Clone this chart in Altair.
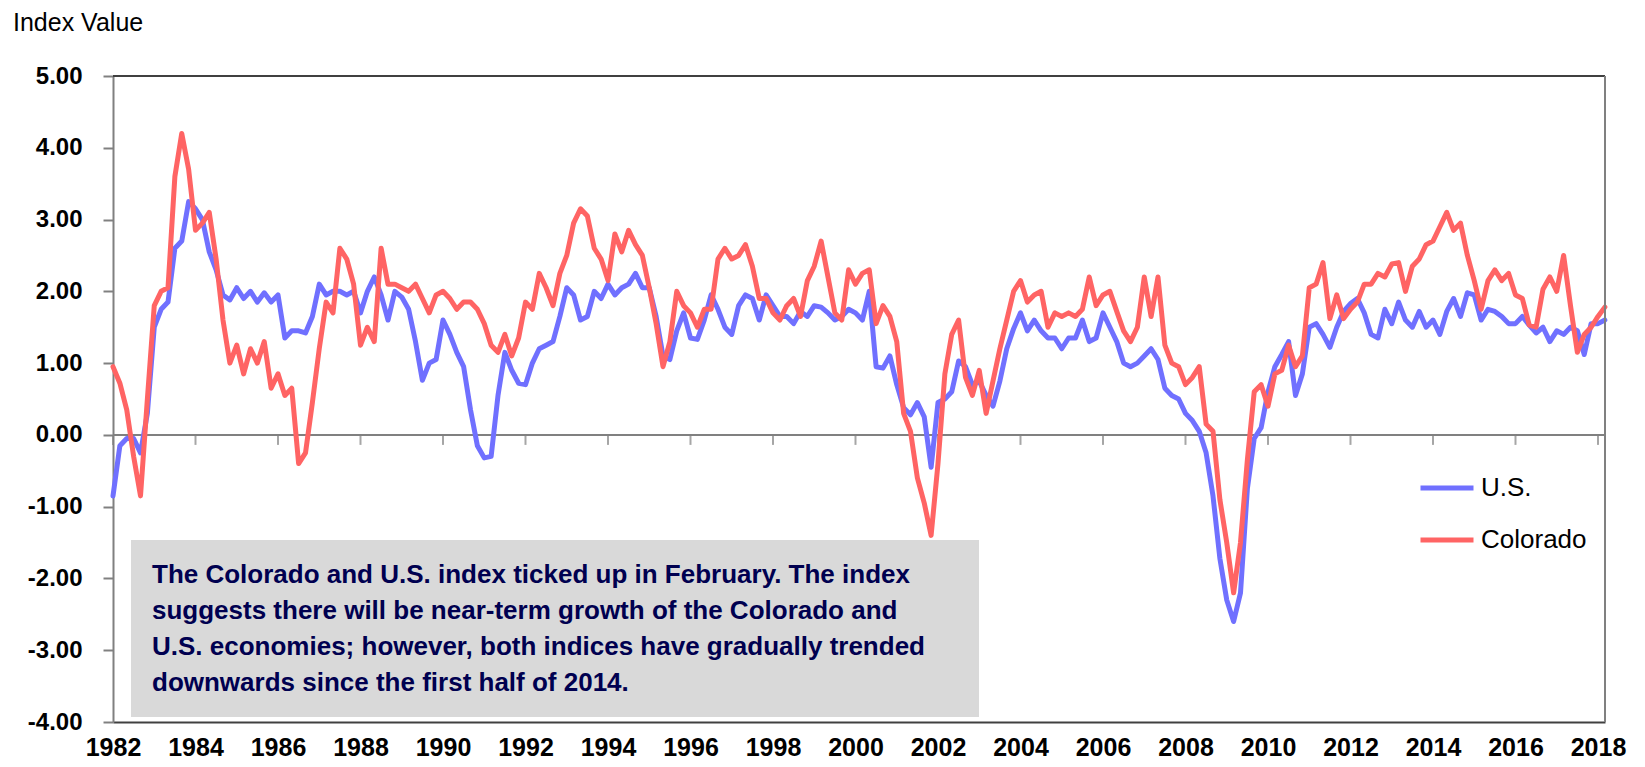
import altair as alt
import pandas as pd

# ---------------- data (two-month sampling, Jan 1982 .. Feb 2018) ----------------
START_YEAR = 1982
STEP = 1 / 6

us_values = [
    -0.85, -0.15, -0.05, -0.05, -0.25, 0.3,    # 1982
    1.5, 1.75, 1.85, 2.6, 2.7, 3.25,           # 1983
    3.15, 3.0, 2.55, 2.3, 1.95, 1.88,          # 1984
    2.05, 1.9, 2.0, 1.85, 1.98, 1.85,          # 1985
    1.95, 1.35, 1.45, 1.45, 1.42, 1.65,        # 1986
    2.1, 1.95, 2.0, 2.0, 1.95, 2.0,            # 1987
    1.7, 2.0, 2.2, 1.95, 1.6, 2.0,             # 1988
    1.92, 1.75, 1.3, 0.76, 1.0, 1.05,          # 1989
    1.6, 1.4, 1.15, 0.95, 0.35, -0.15,         # 1990
    -0.32, -0.3, 0.55, 1.15, 0.9, 0.72,        # 1991
    0.7, 1.0, 1.2, 1.25, 1.3, 1.65,            # 1992
    2.05, 1.95, 1.6, 1.65, 2.0, 1.9,           # 1993
    2.1, 1.95, 2.05, 2.1, 2.25, 2.05,          # 1994
    2.05, 1.65, 1.1, 1.05, 1.45, 1.7,          # 1995
    1.35, 1.33, 1.6, 1.95, 1.75, 1.5,          # 1996
    1.4, 1.8, 1.95, 1.9, 1.6, 1.95,            # 1997
    1.8, 1.65, 1.65, 1.55, 1.72, 1.65,         # 1998
    1.8, 1.78, 1.7, 1.6, 1.65, 1.75,           # 1999
    1.7, 1.6, 2.0, 0.95, 0.93, 1.1,            # 2000
    0.7, 0.38, 0.28, 0.45, 0.25, -0.45,        # 2001
    0.45, 0.5, 0.6, 1.03, 0.95, 0.7,           # 2002
    0.75, 0.55, 0.4, 0.75, 1.2, 1.48,          # 2003
    1.7, 1.45, 1.6, 1.45, 1.35, 1.35,          # 2004
    1.2, 1.35, 1.35, 1.6, 1.3, 1.35,           # 2005
    1.7, 1.5, 1.3, 1.0, 0.95, 1.0,             # 2006
    1.1, 1.2, 1.05, 0.65, 0.55, 0.5,           # 2007
    0.3, 0.2, 0.05, -0.25, -0.85, -1.72,       # 2008
    -2.3, -2.6, -2.2, -0.75, -0.05, 0.1,       # 2009
    0.6, 0.95, 1.12, 1.3, 0.55, 0.85,          # 2010
    1.5, 1.55, 1.4, 1.22, 1.5, 1.72,           # 2011
    1.83, 1.9, 1.7, 1.4, 1.35, 1.75,           # 2012
    1.55, 1.85, 1.6, 1.5, 1.72, 1.5,           # 2013
    1.6, 1.4, 1.72, 1.9, 1.65, 1.98,           # 2014
    1.95, 1.6, 1.75, 1.72, 1.65, 1.55,         # 2015
    1.55, 1.65, 1.53, 1.42, 1.5, 1.3,          # 2016
    1.45, 1.4, 1.5, 1.45, 1.12, 1.55,          # 2017
    1.55, 1.6,                                 # 2018
]

co_values = [
    0.95, 0.72, 0.35, -0.3, -0.85, 0.5,        # 1982
    1.8, 2.0, 2.05, 3.6, 4.2, 3.7,             # 1983
    2.85, 2.95, 3.1, 2.45, 1.6, 1.0,           # 1984
    1.25, 0.85, 1.2, 1.0, 1.3, 0.65,           # 1985
    0.85, 0.55, 0.65, -0.4, -0.25, 0.45,       # 1986
    1.2, 1.85, 1.7, 2.6, 2.45, 2.1,            # 1987
    1.25, 1.5, 1.3, 2.6, 2.1, 2.1,             # 1988
    2.05, 2.0, 2.1, 1.9, 1.7, 1.95,            # 1989
    2.0, 1.9, 1.75, 1.85, 1.85, 1.75,          # 1990
    1.55, 1.25, 1.15, 1.4, 1.1, 1.35,          # 1991
    1.85, 1.75, 2.25, 2.05, 1.8, 2.25,         # 1992
    2.5, 2.95, 3.15, 3.05, 2.6, 2.45,          # 1993
    2.15, 2.8, 2.55, 2.85, 2.65, 2.5,          # 1994
    2.05, 1.55, 0.95, 1.3, 2.0, 1.8,           # 1995
    1.7, 1.5, 1.75, 1.75, 2.45, 2.6,           # 1996
    2.45, 2.5, 2.65, 2.35, 1.9, 1.9,           # 1997
    1.7, 1.6, 1.8, 1.9, 1.65, 2.15,            # 1998
    2.35, 2.7, 2.2, 1.7, 1.6, 2.3,             # 1999
    2.1, 2.25, 2.3, 1.55, 1.8, 1.65,           # 2000
    1.3, 0.3, 0.05, -0.6, -0.95, -1.4,         # 2001
    -0.4, 0.85, 1.4, 1.6, 0.8, 0.55,           # 2002
    0.9, 0.3, 0.75, 1.2, 1.6, 2.0,             # 2003
    2.15, 1.85, 1.95, 2.0, 1.5, 1.7,           # 2004
    1.65, 1.7, 1.65, 1.75, 2.2, 1.8,           # 2005
    1.95, 2.0, 1.72, 1.45, 1.3, 1.5,           # 2006
    2.2, 1.65, 2.2, 1.25, 1.0, 0.95,           # 2007
    0.7, 0.8, 0.95, 0.15, 0.05, -0.9,          # 2008
    -1.5, -2.2, -1.5, -0.35, 0.6, 0.7,         # 2009
    0.4, 0.85, 0.9, 1.25, 0.95, 1.1,           # 2010
    2.05, 2.1, 2.4, 1.62, 1.95, 1.62,          # 2011
    1.75, 1.85, 2.1, 2.1, 2.25, 2.2,           # 2012
    2.38, 2.4, 2.0, 2.35, 2.45, 2.65,          # 2013
    2.7, 2.9, 3.1, 2.85, 2.95, 2.5,            # 2014
    2.15, 1.75, 2.15, 2.3, 2.15, 2.25,         # 2015
    1.95, 1.9, 1.53, 1.5, 2.03, 2.2,           # 2016
    2.0, 2.5, 1.8, 1.15, 1.4, 1.5,             # 2017
    1.65, 1.78,                                # 2018
]

series_names = ["U.S.", "Colorado"]
series_colors = ["#7070FF", "#FF6464"]
year_ticks = list(range(1982, 2019, 2))
y_ticks = list(range(-4, 6))
y_title = "Index Value"
note_lines = [
    "The Colorado and U.S. index ticked up in February. The index",
    "suggests there will be near-term growth of the Colorado and",
    "U.S. economies; however, both indices have gradually trended",
    "downwards since the first half of 2014.",
]

# ---------------- tables ----------------
years = [START_YEAR + i * STEP for i in range(len(us_values))]
df_us = pd.DataFrame({"year": years, "value": us_values, "series": series_names[0]})
df_co = pd.DataFrame({"year": years, "value": co_values, "series": series_names[1]})
df_ticks = pd.DataFrame({"year": year_ticks})
df_one = pd.DataFrame({"k": [0]})

W, H = 1492, 646
FONT = "Liberation Sans"

x_scale = alt.Scale(domain=[1982, 2018.17], nice=False, zero=False)
y_scale = alt.Scale(domain=[-4, 5], nice=False, zero=False)
color_scale = alt.Scale(domain=series_names, range=series_colors)

x_axis = alt.Axis(values=year_ticks, format="d", title=None, ticks=False, grid=False,
                  labelFontSize=25, labelFontWeight="bold", labelFont=FONT, labelColor="black",
                  labelPadding=13, labelFlush=False, domainColor="#404040", domainWidth=2)
y_axis = alt.Axis(values=y_ticks, title=None,
                  labelExpr="replace(format(datum.value, '.2f'), '\u2212', '-')",
                  labelFontSize=24, labelFontWeight="bold", labelFont=FONT, labelColor="black",
                  labelPadding=21, tickSize=10, tickColor="#808080", tickWidth=2,
                  domainColor="#808080", domainWidth=2,
                  gridColor="#D9D9D9", gridWidth=1.5)

legend = alt.Legend(orient="none", legendX=1305, legendY=383, title=None,
                    symbolType="stroke", symbolStrokeWidth=5, symbolSize=2809,
                    labelFontSize=26, labelFont=FONT, labelColor="black",
                    labelOffset=5, rowPadding=10, padding=0, direction="vertical")

def series_line(df):
    return alt.Chart(df).mark_line(strokeWidth=5, strokeJoin="round", strokeCap="round").encode(
        x=alt.X("year:Q", scale=x_scale, axis=x_axis),
        y=alt.Y("value:Q", scale=y_scale, axis=y_axis),
        color=alt.Color("series:N", scale=color_scale, legend=legend),
    )

zero_line = alt.Chart(df_one).mark_rule(color="#808080", strokeWidth=2).encode(
    y=alt.datum(0, scale=y_scale))
zero_ticks = alt.Chart(df_ticks).mark_tick(orient="vertical", size=10, thickness=2,
                                           color="#808080", yOffset=5).encode(
    x=alt.X("year:Q", scale=x_scale), y=alt.datum(0, scale=y_scale))
top_border = alt.Chart(df_one).mark_rule(color="#404040", strokeWidth=2).encode(y=alt.value(0))
right_border = alt.Chart(df_one).mark_rule(color="#808080", strokeWidth=2).encode(x=alt.value(W))

note_box = alt.Chart(df_one).mark_rect(color="#D9D9D9").encode(
    x=alt.value(18), x2=alt.value(866), y=alt.value(464), y2=alt.value(641))
note_text = alt.Chart(df_one).mark_text(
    align="left", baseline="middle", fontSize=26, fontWeight="bold", font=FONT,
    color="#000050", lineBreak="\n", lineHeight=36).encode(
    x=alt.value(39), y=alt.value(499), text=alt.value("\n".join(note_lines)))
title_text = alt.Chart(df_one).mark_text(
    align="left", baseline="alphabetic", fontSize=25, font=FONT, color="black").encode(
    x=alt.value(-100), y=alt.value(-45), text=alt.value(y_title))

chart = alt.layer(
    zero_line, zero_ticks,
    series_line(df_us), series_line(df_co),
    note_box, note_text, top_border, right_border, title_text,
).properties(
    width=W, height=H,
    padding={"left": 105, "top": 68, "right": 24, "bottom": 37},
    autosize=alt.AutoSizeParams(type="none"),
).configure_view(stroke=None)

chart.save("out.html", embed_options={"renderer": "svg", "actions": False})
